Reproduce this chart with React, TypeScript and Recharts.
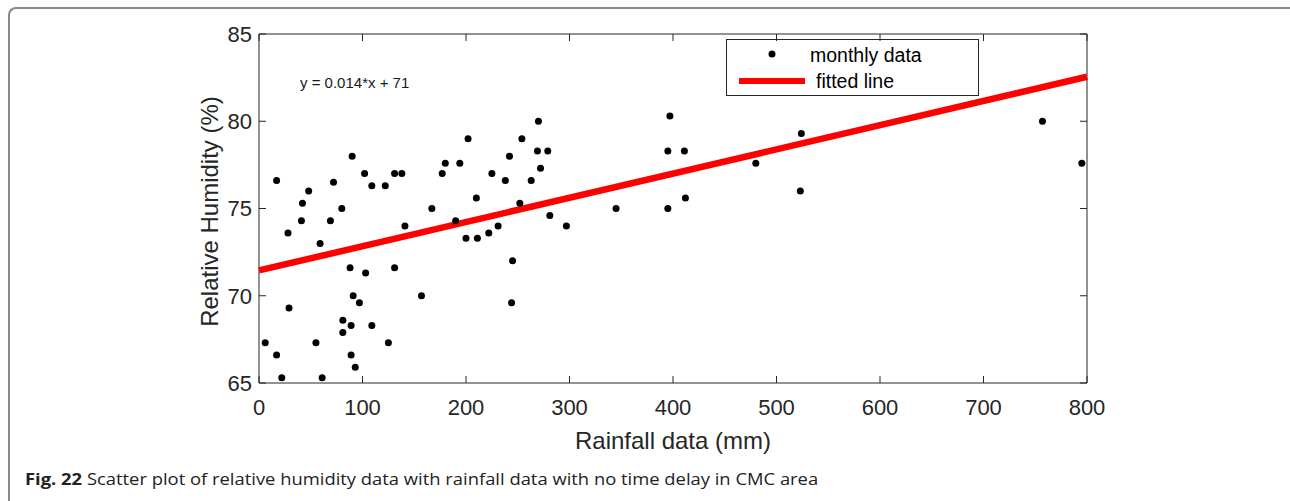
import { ScatterChart, Scatter, XAxis, YAxis, Label, Customized } from 'recharts'

// monthly rainfall (mm) and relative humidity (%)
const rainfall = [
  6, 17, 22, 17, 29, 28, 41, 42, 48, 55, 61, 59, 69, 72, 80, 81, 81, 88, 90, 89,
  89, 91, 93, 97, 102, 103, 109, 109, 122, 125, 131, 138, 131, 141, 157, 167, 177, 180, 190, 194,
  200, 202, 210, 211, 222, 225, 231, 238, 242, 245, 244, 252, 254, 263, 270, 269, 272, 279, 281, 297,
  345, 395, 397, 395, 411, 412, 480, 524, 523, 757, 795,
]
const humidity = [
  67.3, 66.6, 65.3, 76.6, 69.3, 73.6, 74.3, 75.3, 76.0, 67.3, 65.3, 73.0, 74.3, 76.5, 75.0, 68.6, 67.9, 71.6, 78.0, 68.3,
  66.6, 70.0, 65.9, 69.6, 77.0, 71.3, 76.3, 68.3, 76.3, 67.3, 77.0, 77.0, 71.6, 74.0, 70.0, 75.0, 77.0, 77.6, 74.3, 77.6,
  73.3, 79.0, 75.6, 73.3, 73.6, 77.0, 74.0, 76.6, 78.0, 72.0, 69.6, 75.3, 79.0, 76.6, 80.0, 78.3, 77.3, 78.3, 74.6, 74.0,
  75.0, 75.0, 80.3, 78.3, 78.3, 75.6, 77.6, 79.3, 76.0, 80.0, 77.6,
]

// ends of the fitted line as drawn
const fitRain = [0, 800]
const fitHumidity = [71.45, 82.55]

const xTicks = [0, 100, 200, 300, 400, 500, 600, 700, 800]
const yTicks = [65, 70, 75, 80, 85]

const points = rainfall.map((x, i) => ({ x, y: humidity[i] }))
const fit = fitRain.map((x, i) => ({ x, y: fitHumidity[i] }))

const AXIS = '#262626'
const FONT = '"Liberation Sans", Arial, Helvetica, sans-serif'

const blank = () => ''
const nothing = () => <g />

function Dot(props: any) {
  return <circle cx={props.cx} cy={props.cy} r={3.5} fill="#000" />
}

function Extras() {
  return (
    <g fontFamily={FONT}>
      <text x={300} y={82} dominantBaseline="central" fontSize={15} fill="#1a1a1a">y = 0.014*x + 71</text>
      <rect x={726.5} y={39.5} width={252} height={56} fill="#fff" stroke={AXIS} strokeWidth={1} />
      <circle cx={772} cy={54} r={3.5} fill="#000" />
      <line x1={739} x2={805} y1={81} y2={81} stroke="#ff0000" strokeWidth={6} />
      <text x={810} y={55} dominantBaseline="central" fontSize={19.5} fill="#000">monthly data</text>
      <text x={816} y={81} dominantBaseline="central" fontSize={19.5} fill="#000">fitted line</text>
    </g>
  )
}

export default function App() {
  return (
    <div style={{ position: 'absolute', left: 0, top: 0, width: 1290, height: 501, overflow: 'hidden', background: '#fff' }}>
      <div style={{
        position: 'absolute', left: 8, top: 7, right: -10, bottom: -10,
        borderLeft: '2px solid #8a8a8a', borderTop: '2px solid #8a8a8a', borderTopLeftRadius: 8,
      }} />
      <div style={{ position: 'absolute', left: 0, top: 0 }}>
        <ScatterChart width={1290} height={501} margin={{ top: 33, right: 202, bottom: 4, left: 159 }}>
          <XAxis
            xAxisId="b" type="number" dataKey="x" domain={[0, 800]} ticks={xTicks} interval={0}
            height={114} tickSize={-7} tickMargin={23}
            stroke={AXIS} tick={{ fill: AXIS, fontSize: 22, fontFamily: FONT }}
          >
            <Label value="Rainfall data (mm)" position="center" fill={AXIS} fontSize={24} fontFamily={FONT} />
          </XAxis>
          <XAxis
            xAxisId="t" orientation="top" type="number" dataKey="x" domain={[0, 800]} ticks={xTicks} interval={0}
            height={1} tickSize={-7} tickFormatter={blank} stroke={AXIS}
          />
          <YAxis
            yAxisId="l" type="number" dataKey="y" domain={[65, 85]} ticks={yTicks} interval={0}
            width={100} tickSize={-7} tickMargin={14}
            stroke={AXIS} tick={{ fill: AXIS, fontSize: 22, fontFamily: FONT }}
          >
            <Label value="Relative Humidity (%)" position="center" angle={-90} dy={3} fill={AXIS} fontSize={24} fontFamily={FONT} />
          </YAxis>
          <YAxis
            yAxisId="r" orientation="right" type="number" dataKey="y" domain={[65, 85]} ticks={yTicks} interval={0}
            width={1} tickSize={-7} tickFormatter={blank} stroke={AXIS}
          />
          {/* invisible copy so the top and right box axes have a series */}
          <Scatter data={fit} xAxisId="t" yAxisId="r" shape={nothing} isAnimationActive={false} legendType="none" />
          <Scatter
            name="fitted line" data={fit} xAxisId="b" yAxisId="l"
            line={{ stroke: '#ff0000', strokeWidth: 6.5 }} shape={nothing}
            isAnimationActive={false}
          />
          <Scatter name="monthly data" data={points} xAxisId="b" yAxisId="l" shape={Dot} isAnimationActive={false} />
          <Customized component={Extras} />
        </ScatterChart>
      </div>
      <div style={{
        position: 'absolute', left: 25, top: 469, fontFamily: '"Open Sans", sans-serif', fontSize: 15.5,
        color: '#222', whiteSpace: 'nowrap', lineHeight: '20px',
        transform: 'scaleX(1.186)', transformOrigin: 'left center',
      }}>
        <b>Fig. 22</b> Scatter plot of relative humidity data with rainfall data with no time delay in CMC area
      </div>
    </div>
  )
}
